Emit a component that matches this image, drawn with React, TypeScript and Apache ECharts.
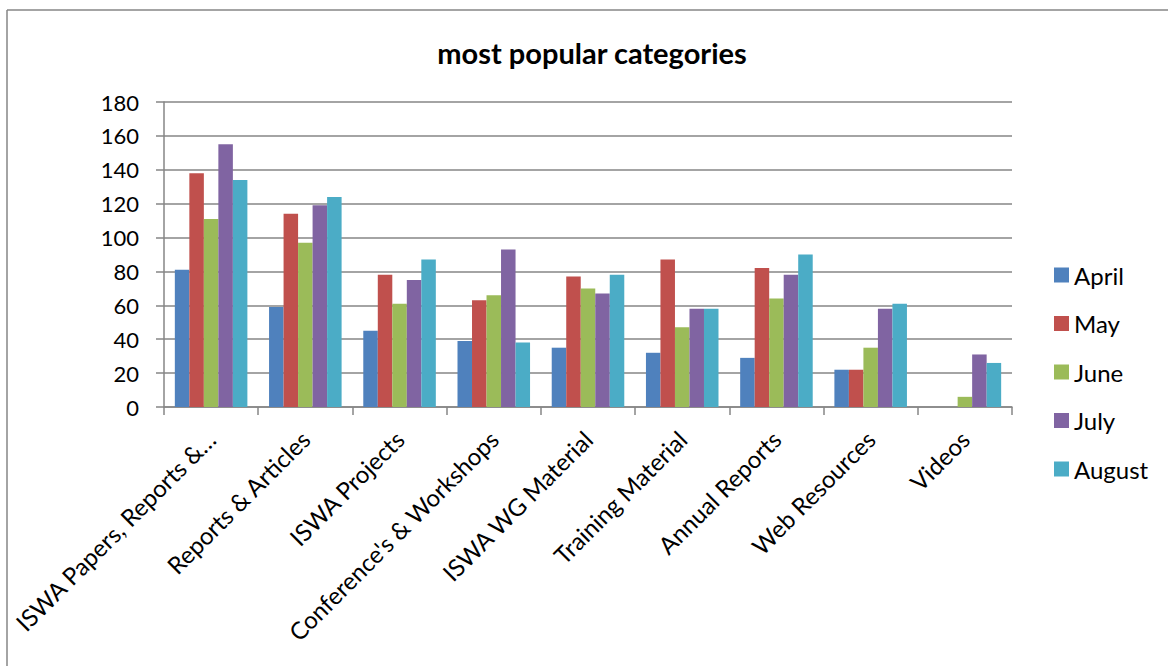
import React, { useEffect, useRef } from "react";
import * as echarts from "echarts";

const categories = [
  "ISWA Papers, Reports &…",
  "Reports & Articles",
  "ISWA Projects",
  "Conference's & Workshops",
  "ISWA WG Material",
  "Training Material",
  "Annual Reports",
  "Web Resources",
  "Videos",
];
const april = [81, 59, 45, 39, 35, 32, 29, 22, 0];
const may = [138, 114, 78, 63, 77, 87, 82, 22, 0];
const june = [111, 97, 61, 66, 70, 47, 64, 35, 6];
const july = [155, 119, 75, 93, 67, 58, 78, 58, 31];
const august = [134, 124, 87, 38, 78, 58, 90, 61, 26];
const seriesNames = ["April", "May", "June", "July", "August"];
const colors = ["#4F81BD", "#C0504D", "#9BBB59", "#8064A2", "#4BACC6"];

export default function App() {
  const ref = useRef<HTMLDivElement>(null);
  useEffect(() => {
    if (!ref.current) return;
    const chart = echarts.init(ref.current, null, { renderer: "svg" });
    const data = [april, may, june, july, august];
    const font = "Lato, 'Open Sans', sans-serif";
    chart.setOption({
      animation: false,
      backgroundColor: "#ffffff",
      textStyle: { fontFamily: font },
      title: {
        text: "most popular categories",
        left: 592,
        textAlign: "center",
        top: 38,
        padding: 0,
        textStyle: { fontFamily: font, fontSize: 29, fontWeight: "bold", color: "#000" },
      },
      legend: {
        orient: "vertical",
        left: 1054,
        top: 263,
        padding: 0,
        itemWidth: 15,
        itemHeight: 15,
        itemGap: 24.5,
        icon: "rect",
        textStyle: { fontFamily: font, fontSize: 24, color: "#000" },
        data: seriesNames,
      },
      grid: { left: 164, right: 156, top: 102, bottom: 259, containLabel: false },
      xAxis: {
        type: "category",
        data: categories,
        axisLine: { lineStyle: { color: "#868686", width: 1.5 } },
        axisTick: { show: true, length: 8, lineStyle: { color: "#868686", width: 1.5 } },
        axisLabel: {
          rotate: 45,
          interval: 0,
          margin: 28,
          fontFamily: font,
          fontSize: 24,
          color: "#000",
        },
      },
      yAxis: {
        type: "value",
        min: 0,
        max: 180,
        interval: 20,
        axisLine: { show: true, lineStyle: { color: "#868686", width: 1.5 } },
        axisTick: { show: true, length: 8, lineStyle: { color: "#868686", width: 1.5 } },
        splitLine: { lineStyle: { color: "#868686", width: 1.5 } },
        axisLabel: { margin: 25, fontFamily: font, fontSize: 22, color: "#000" },
      },
      series: seriesNames.map((n, i) => ({
        name: n,
        type: "bar",
        data: data[i],
        barGap: "0%",
        barCategoryGap: "23%",
        itemStyle: { color: colors[i] },
      })),
      graphic: [
        {
          type: "line",
          shape: { x1: 7, y1: 10, x2: 1168, y2: 10 },
          style: { stroke: "#868686", lineWidth: 1.5 },
        },
        {
          type: "line",
          shape: { x1: 7, y1: 10, x2: 7, y2: 666 },
          style: { stroke: "#868686", lineWidth: 1.5 },
        },
      ],
    });
    return () => chart.dispose();
  }, []);
  return (
    <div
      ref={ref}
      style={{ position: "fixed", left: 0, top: 0, width: 1168, height: 666 }}
    />
  );
}
